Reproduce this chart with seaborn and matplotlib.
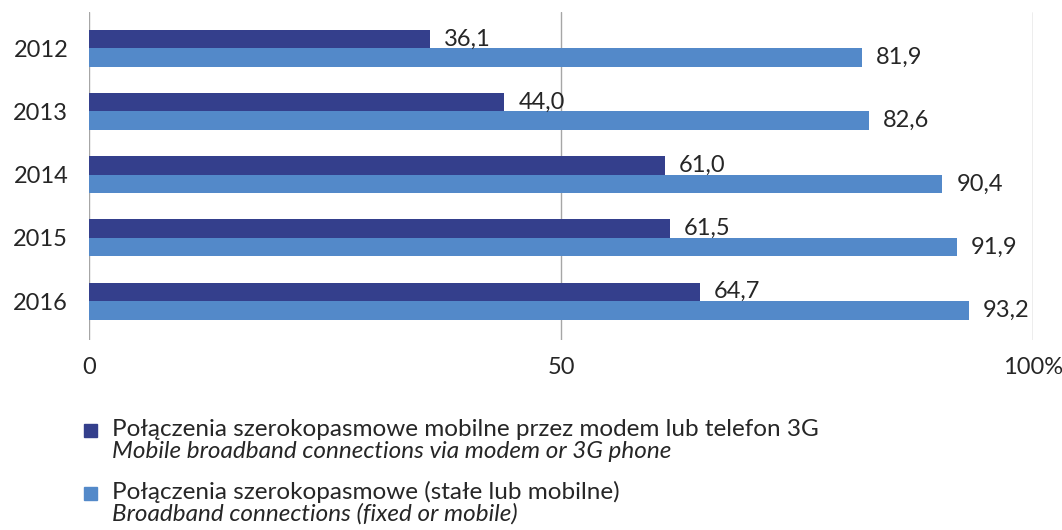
import seaborn as sns
import matplotlib.pyplot as plt
import pandas as pd
from matplotlib.patches import Rectangle

# dane z wykresu
years = ["2012", "2013", "2014", "2015", "2016"]
mobile = [36.1, 44.0, 61.0, 61.5, 64.7]
broadband = [81.9, 82.6, 90.4, 91.9, 93.2]

series_pl = ["Połączenia szerokopasmowe mobilne przez modem lub telefon 3G",
             "Połączenia szerokopasmowe (stałe lub mobilne)"]
series_en = ["Mobile broadband connections via modem or 3G phone",
             "Broadband connections (fixed or mobile)"]
colors = ["#343F8C", "#5389C9"]

sns.set_style("white")
plt.rcParams["font.family"] = ["Lato", "DejaVu Sans"]

df = pd.DataFrame({
    "year": years * 2,
    "value": mobile + broadband,
    "series": [series_pl[0]] * len(years) + [series_pl[1]] * len(years),
})

fig = plt.figure(figsize=(10.62, 5.30), dpi=100)
ax = fig.add_axes([0.0838, 0.358, 0.889, 0.619])

sns.barplot(data=df, y="year", x="value", hue="series", orient="h",
            palette=colors, width=0.585, saturation=1, legend=False,
            linewidth=0, ax=ax)

for cont in ax.containers:
    ax.bar_label(cont, labels=[f"{b.get_width():.1f}".replace(".", ",") for b in cont],
                 padding=10, fontsize=17, color="#262626")

ax.set_xlim(0, 100)
ax.set_ylim(4.62, -0.57)
ax.set_xticks([0, 50, 100])
ax.set_xticklabels(["0", "50", "100%"])
ax.grid(axis="x", color="#A6A6A6", lw=1)
ax.set_axisbelow(True)
ax.tick_params(length=0, labelsize=17, labelcolor="#262626")
ax.tick_params(axis="x", pad=12)
ax.tick_params(axis="y", pad=15)
ax.set_xlabel("")
ax.set_ylabel("")
sns.despine(ax=ax, left=True, bottom=True)

# legenda
W, H = 1062, 530
for i, (pl, en) in enumerate(zip(series_pl, series_en)):
    y0 = 429 + i * 63
    fig.patches.append(Rectangle((84 / W, 1 - (y0 + 8) / H), 13 / W, 13 / H,
                                 transform=fig.transFigure, color=colors[i]))
    fig.text(112 / W, 1 - y0 / H, pl, fontsize=17.5, color="#262626", va="center")
    fig.text(112 / W, 1 - (y0 + 22) / H, en, fontsize=17.5, style="italic",
             color="#262626", va="center")

fig.savefig("out.png", dpi=100)
